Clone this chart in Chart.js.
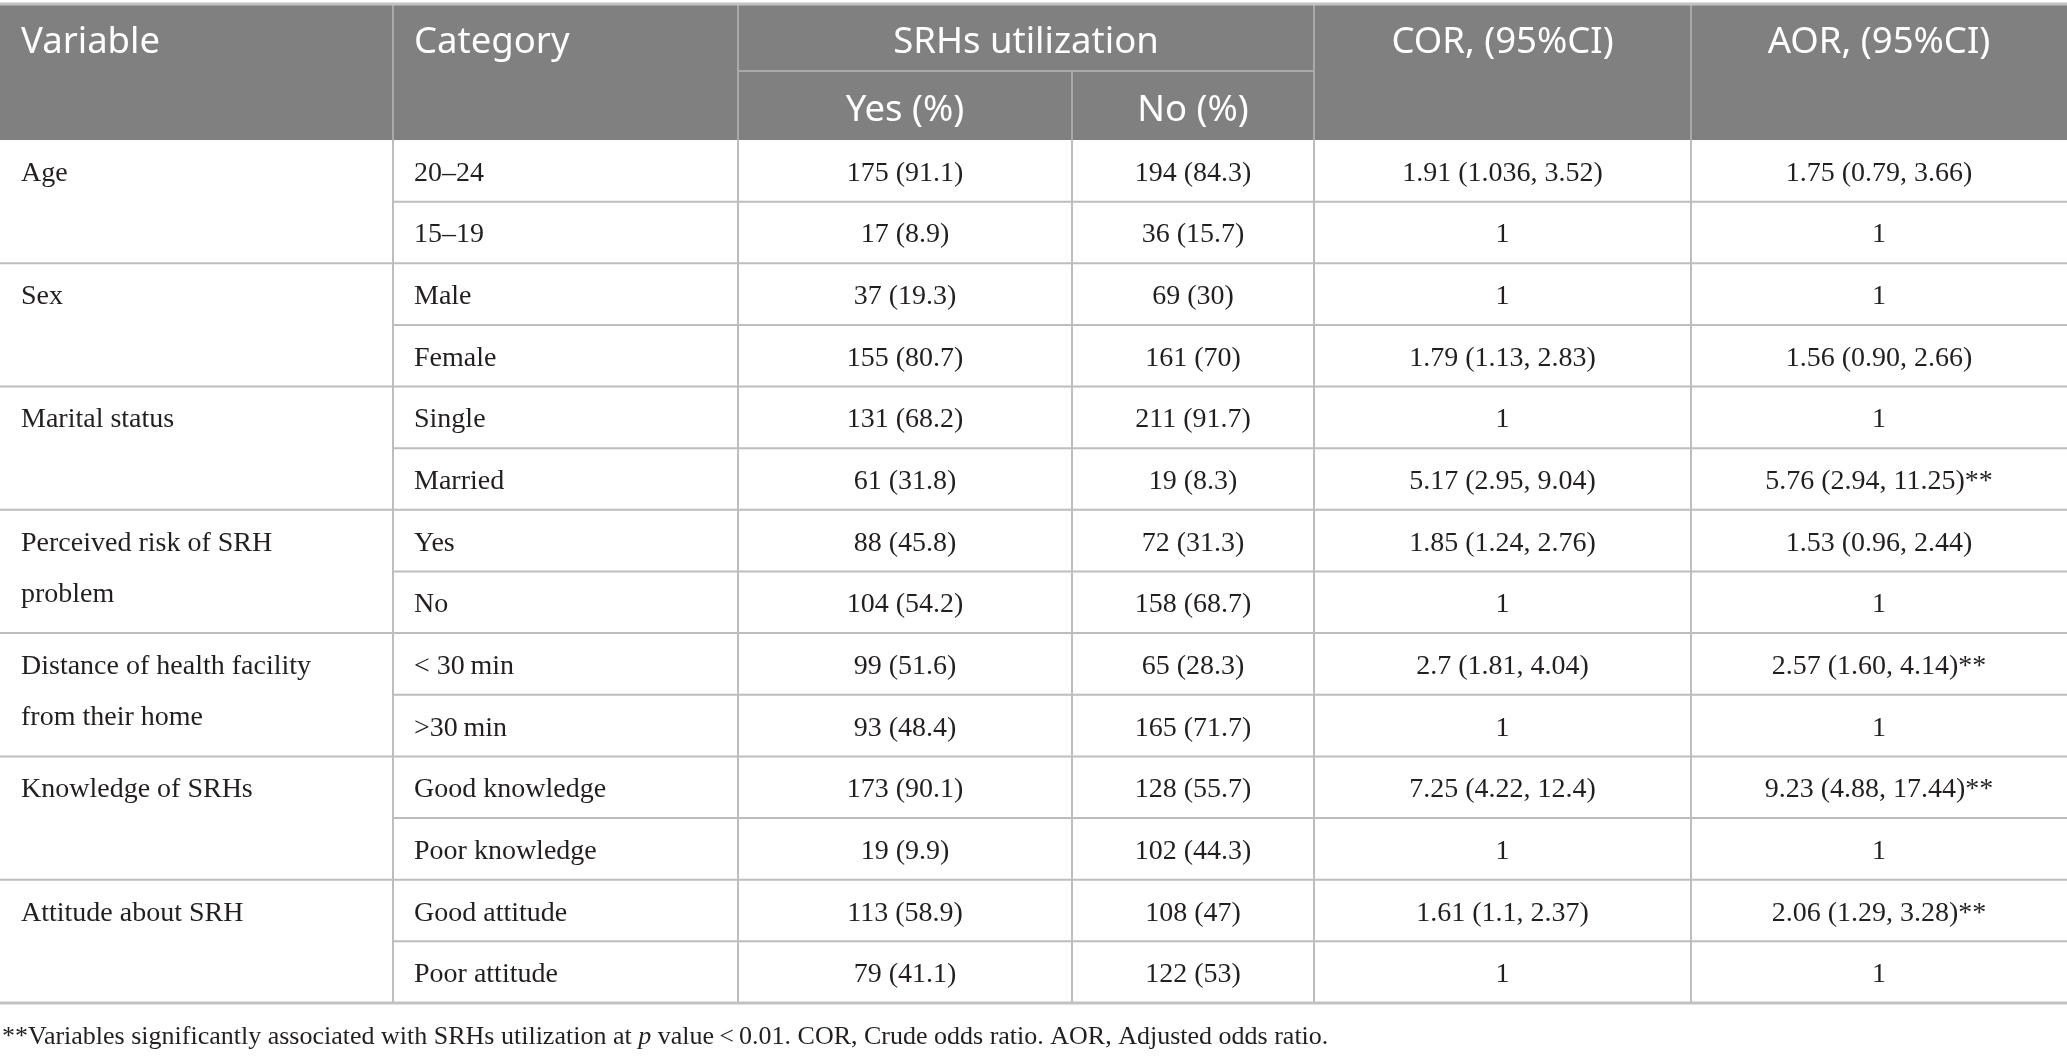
<!DOCTYPE html>
<html>
<head>
<meta charset="utf-8">
<script src="https://cdn.jsdelivr.net/npm/chart.js@4.4.1/dist/chart.umd.min.js"></script>
<style>
  html, body { margin: 0; padding: 0; background: #ffffff; }
  canvas { display: block; }
</style>
</head>
<body>
<canvas id="table" width="2067" height="1057"></canvas>
<script>
// table content
var headers = ["Variable", "Category", "SRHs utilization", "COR, (95%CI)", "AOR, (95%CI)"];
var subHeaders = ["Yes (%)", "No (%)"];
var variables = [
    ["Age"],
    ["Sex"],
    ["Marital status"],
    ["Perceived risk of SRH", "problem"],
    ["Distance of health facility", "from their home"],
    ["Knowledge of SRHs"],
    ["Attitude about SRH"]
];
var categories = ["20\u201324", "15\u201319", "Male", "Female", "Single", "Married", "Yes", "No",
    "< 30\u2009min", ">30\u2009min", "Good knowledge", "Poor knowledge", "Good attitude", "Poor attitude"];
var yes_counts = [175, 17, 37, 155, 131, 61, 88, 104, 99, 93, 173, 19, 113, 79];
var yes_pct = [91.1, 8.9, 19.3, 80.7, 68.2, 31.8, 45.8, 54.2, 51.6, 48.4, 90.1, 9.9, 58.9, 41.1];
var no_counts = [194, 36, 69, 161, 211, 19, 72, 158, 65, 165, 128, 102, 108, 122];
var no_pct = [84.3, 15.7, 30, 70, 91.7, 8.3, 31.3, 68.7, 28.3, 71.7, 55.7, 44.3, 47, 53];
var cor = ["1.91 (1.036, 3.52)", "1", "1", "1.79 (1.13, 2.83)", "1", "5.17 (2.95, 9.04)",
    "1.85 (1.24, 2.76)", "1", "2.7 (1.81, 4.04)", "1", "7.25 (4.22, 12.4)", "1", "1.61 (1.1, 2.37)", "1"];
var aor = ["1.75 (0.79, 3.66)", "1", "1", "1.56 (0.90, 2.66)", "1", "5.76 (2.94, 11.25)**",
    "1.53 (0.96, 2.44)", "1", "2.57 (1.60, 4.14)**", "1", "9.23 (4.88, 17.44)**", "1", "2.06 (1.29, 3.28)**", "1"];
var footnote = [
    ["**Variables significantly associated with SRHs utilization at ", false],
    ["p", true],
    [" value\u2009<\u20090.01. COR, Crude odds ratio. AOR, Adjusted odds ratio.", false]
];

// layout (in scale units)
var col_edges = [0, 393, 738, 1072, 1314, 1691, 2067];
var top_y = 4, header_mid = 71, header_bottom = 140, row_h = 61.64;
var pad = 21;

var header_font = "36.5px 'Noto Sans'";
var body_font = "28px 'Liberation Serif'";
var foot_font = "26px 'Liberation Serif'";

var tablePlugin = {
    id: 'tablePlugin',
    afterDraw: function (chart) {
        var ctx = chart.ctx;
        var xs = chart.scales.x, ys = chart.scales.y;
        var X = function (v) { return xs.getPixelForValue(v); };
        var Y = function (v) { return ys.getPixelForValue(v); };
        var rowTop = function (i) { return header_bottom + i * row_h; };
        var nrows = categories.length;

        ctx.save();
        // header background
        ctx.fillStyle = '#7f807f';
        ctx.fillRect(X(0), Y(top_y), X(2067) - X(0), Y(header_bottom) - Y(top_y));

        // header lines
        ctx.strokeStyle = '#a8a9a8';
        ctx.lineWidth = 2;
        ctx.beginPath();
        for (var c = 1; c < col_edges.length - 1; c++) {
            var top = (c === 3) ? header_mid : top_y;
            ctx.moveTo(X(col_edges[c]), Y(top));
            ctx.lineTo(X(col_edges[c]), Y(header_bottom));
        }
        ctx.moveTo(X(col_edges[2]), Y(header_mid));
        ctx.lineTo(X(col_edges[4]), Y(header_mid));
        ctx.stroke();

        // top border
        ctx.strokeStyle = '#c2c2c2';
        ctx.lineWidth = 3;
        ctx.beginPath();
        ctx.moveTo(X(0), Y(top_y));
        ctx.lineTo(X(2067), Y(top_y));
        ctx.stroke();

        // body grid
        ctx.strokeStyle = '#bdbdbd';
        ctx.lineWidth = 2;
        ctx.beginPath();
        for (var c2 = 1; c2 < col_edges.length - 1; c2++) {
            ctx.moveTo(X(col_edges[c2]), Y(header_bottom));
            ctx.lineTo(X(col_edges[c2]), Y(rowTop(nrows)));
        }
        for (var r = 1; r < nrows; r++) {
            var x0 = (r % 2 === 0) ? 0 : col_edges[1];
            ctx.moveTo(X(x0), Y(rowTop(r)));
            ctx.lineTo(X(2067), Y(rowTop(r)));
        }
        ctx.stroke();
        ctx.lineWidth = 3;
        ctx.strokeStyle = '#c2c2c2';
        ctx.beginPath();
        ctx.moveTo(X(0), Y(rowTop(nrows)));
        ctx.lineTo(X(2067), Y(rowTop(nrows)));
        ctx.stroke();

        // header text
        ctx.fillStyle = '#ffffff';
        ctx.font = header_font;
        ctx.textBaseline = 'alphabetic';
        var h1 = 53, h2 = 121;
        ctx.textAlign = 'left';
        ctx.fillText(headers[0], X(col_edges[0] + pad), Y(h1));
        ctx.fillText(headers[1], X(col_edges[1] + pad), Y(h1));
        ctx.textAlign = 'center';
        ctx.fillText(headers[2], X((col_edges[2] + col_edges[4]) / 2), Y(h1));
        ctx.fillText(headers[3], X((col_edges[4] + col_edges[5]) / 2), Y(h1));
        ctx.fillText(headers[4], X((col_edges[5] + col_edges[6]) / 2), Y(h1));
        ctx.fillText(subHeaders[0], X((col_edges[2] + col_edges[3]) / 2), Y(h2));
        ctx.fillText(subHeaders[1], X((col_edges[3] + col_edges[4]) / 2), Y(h2));

        // body text
        ctx.fillStyle = '#231f20';
        ctx.font = body_font;
        for (var i = 0; i < nrows; i++) {
            var cy = Y(rowTop(i) + row_h / 2 + 10);
            ctx.textAlign = 'left';
            ctx.fillText(categories[i], X(col_edges[1] + pad), cy);
            ctx.textAlign = 'center';
            ctx.fillText(yes_counts[i] + ' (' + yes_pct[i] + ')', X((col_edges[2] + col_edges[3]) / 2), cy);
            ctx.fillText(no_counts[i] + ' (' + no_pct[i] + ')', X((col_edges[3] + col_edges[4]) / 2), cy);
            ctx.fillText(cor[i], X((col_edges[4] + col_edges[5]) / 2), cy);
            ctx.fillText(aor[i], X((col_edges[5] + col_edges[6]) / 2), cy);
        }
        ctx.textAlign = 'left';
        for (var v = 0; v < variables.length; v++) {
            for (var l = 0; l < variables[v].length; l++) {
                var ly = rowTop(2 * v) + row_h / 2 + 10 + l * 51;
                ctx.fillText(variables[v][l], X(col_edges[0] + pad), Y(ly));
            }
        }

        // footnote
        var fx = X(2);
        for (var f = 0; f < footnote.length; f++) {
            ctx.font = (footnote[f][1] ? 'italic ' : '') + foot_font;
            ctx.fillText(footnote[f][0], fx, Y(1044));
            fx += ctx.measureText(footnote[f][0]).width;
        }
        ctx.restore();
    }
};

new Chart(document.getElementById('table').getContext('2d'), {
    type: 'scatter',
    data: { datasets: [] },
    options: {
        responsive: false,
        animation: false,
        devicePixelRatio: 1,
        layout: { padding: 0 },
        plugins: { legend: { display: false }, tooltip: { enabled: false } },
        scales: {
            x: { type: 'linear', min: 0, max: 2067, display: false },
            y: { type: 'linear', min: 0, max: 1057, reverse: true, display: false }
        }
    },
    plugins: [tablePlugin]
});
</script>
</body>
</html>
